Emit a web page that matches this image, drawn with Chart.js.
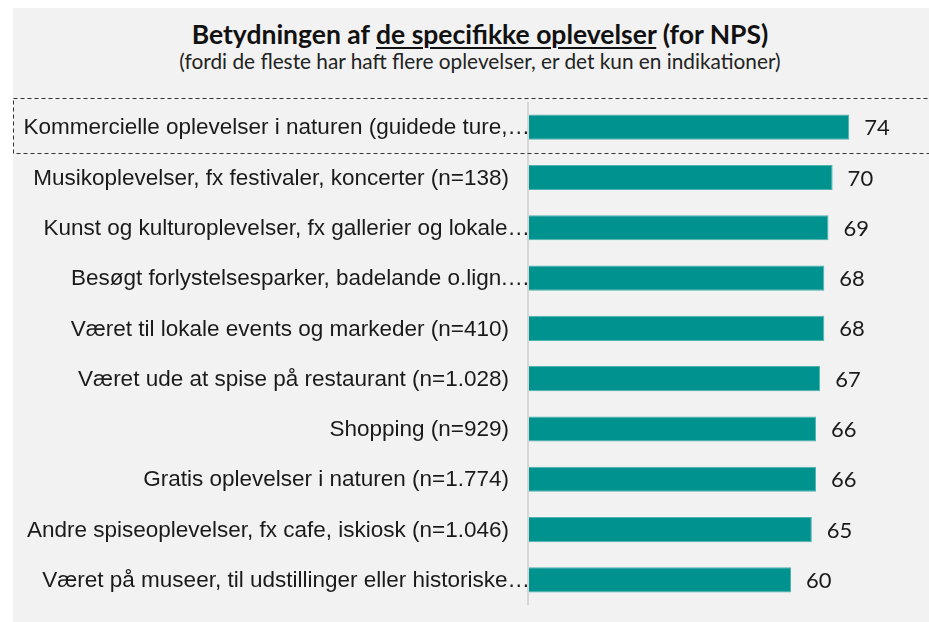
<!DOCTYPE html>
<html>
<head>
<meta charset="utf-8">
<script src="https://cdn.jsdelivr.net/npm/chart.js@4.4.1/dist/chart.umd.min.js"></script>
<style>
  html,body{margin:0;padding:0;background:#fff;}
  #wrap{position:relative;width:929px;height:622px;overflow:hidden;}
  #panel{position:absolute;left:13px;top:8px;width:916px;height:614px;background:#f2f2f2;}
  #title{position:absolute;left:31px;width:898px;top:18px;text-align:center;font-family:Lato,sans-serif;font-weight:bold;font-size:26.5px;line-height:32px;color:#111;}
  #sub{position:absolute;left:31px;width:898px;top:48px;text-align:center;font-family:Lato,sans-serif;font-size:20.8px;line-height:26px;color:#222;}
  #title u{text-decoration-thickness:2px;text-underline-offset:3px;}
  canvas{position:absolute;left:0;top:0;}
</style>
</head>
<body>
<div id="wrap">
  <div id="panel"></div>
  <div id="title">Betydningen af <u>de specifikke oplevelser</u> (for NPS)</div>
  <div id="sub">(fordi de fleste har haft flere oplevelser, er det kun en indikationer)</div>
  <canvas id="c" width="929" height="622"></canvas>
</div>
<script>
const categories = [
  "Kommercielle oplevelser i naturen (guidede ture,…",
  "Musikoplevelser, fx festivaler, koncerter (n=138)",
  "Kunst og kulturoplevelser, fx gallerier og lokale…",
  "Besøgt forlystelsesparker, badelande o.lign.…",
  "Været til lokale events og markeder (n=410)",
  "Været ude at spise på restaurant (n=1.028)",
  "Shopping (n=929)",
  "Gratis oplevelser i naturen (n=1.774)",
  "Andre spiseoplevelser, fx cafe, iskiosk (n=1.046)",
  "Været på museer, til udstillinger eller historiske…"
];
const npsValues = [74, 70, 69, 68, 68, 67, 66, 66, 65, 60];
const highlightedIndex = 0;
const axisMin = -3;
const axisMax = 86.2;

const decor = {
  id: 'decor',
  afterDatasetsDraw(chart) {
    const ctx = chart.ctx;
    const area = chart.chartArea;
    const ys = chart.scales.y;
    ctx.save();
    // axis line
    ctx.strokeStyle = '#d6d6d6';
    ctx.lineWidth = 2;
    ctx.beginPath();
    ctx.moveTo(area.left - 1, area.top);
    ctx.lineTo(area.left - 1, area.bottom);
    ctx.stroke();
    // category labels
    ctx.fillStyle = '#1a1a1a';
    ctx.font = '22.5px "Liberation Sans", Arial, sans-serif';
    ctx.textAlign = 'right';
    ctx.textBaseline = 'middle';
    categories.forEach((lab, i) => {
      const y = ys.getPixelForValue(i);
      const x = lab.endsWith('…') ? area.left + 1 : area.left - 20;
      ctx.fillText(lab, x, y + 1);
    });
    // value labels
    ctx.fillStyle = '#1a1a1a';
    ctx.font = '22px Lato, sans-serif';
    ctx.textAlign = 'left';
    const meta = chart.getDatasetMeta(0);
    meta.data.forEach((bar, i) => {
      ctx.fillText(String(npsValues[i]), bar.x + 15, bar.y + 1);
    });
    // dashed highlight box
    const c0 = ys.getPixelForValue(highlightedIndex);
    const step = ys.getPixelForValue(highlightedIndex + 1) - c0;
    ctx.strokeStyle = '#333';
    ctx.lineWidth = 1;
    ctx.setLineDash([4, 3]);
    ctx.strokeRect(13.5, Math.round(c0 - step * 0.57) + 0.5, chart.width + 20, Math.round(step * 1.09));
    ctx.restore();
  }
};

new Chart(document.getElementById('c'), {
  type: 'bar',
  data: {
    labels: categories,
    datasets: [{
      data: npsValues,
      base: axisMin,
      backgroundColor: '#00928f',
      borderColor: '#4fb3ae',
      borderWidth: 1,
      barPercentage: 0.5,
      categoryPercentage: 1.0
    }]
  },
  options: {
    indexAxis: 'y',
    responsive: false,
    animation: false,
    layout: { padding: { left: 529, right: 29, top: 102, bottom: 17 } },
    plugins: { legend: { display: false }, tooltip: { enabled: false } },
    scales: {
      x: { display: false, min: axisMin, max: axisMax },
      y: { display: false }
    }
  },
  plugins: [decor]
});
</script>
</body>
</html>
